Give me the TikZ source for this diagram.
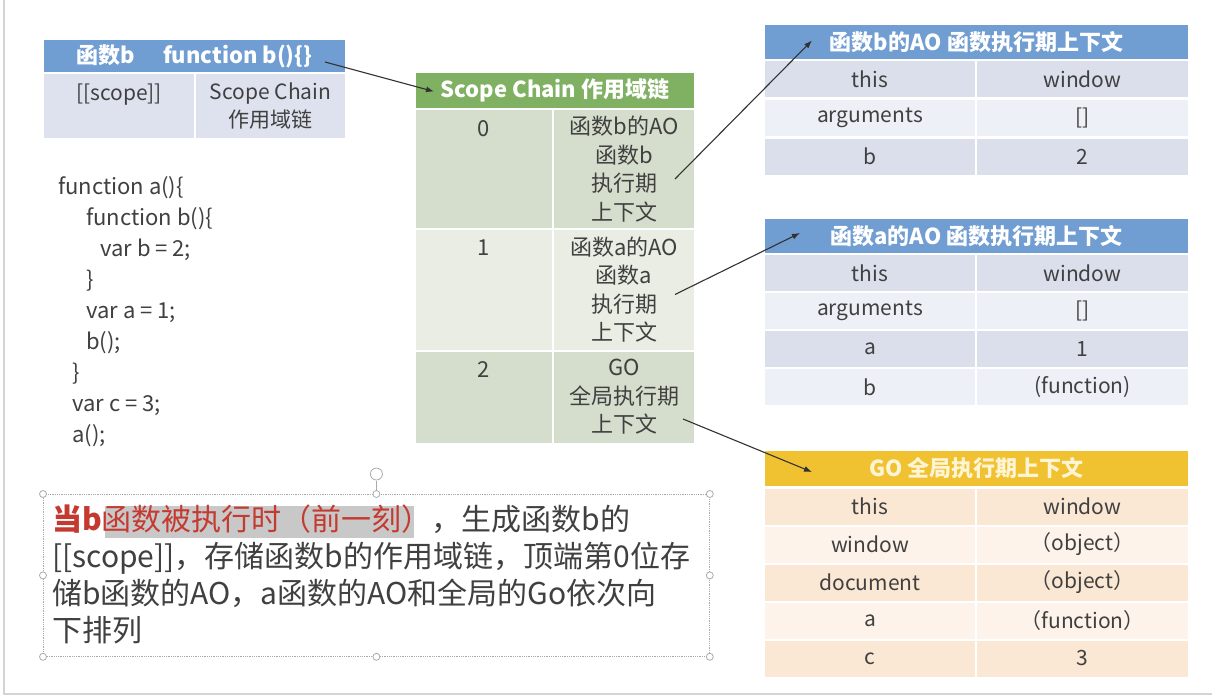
\documentclass[tikz,border=0pt]{standalone}
\usepackage{fontspec}
\setmainfont{Noto Sans CJK SC}
\usetikzlibrary{positioning, arrows.meta}

\definecolor{hdrblue}{RGB}{112,157,210}
\definecolor{hdrgreen}{RGB}{128,177,98}
\definecolor{hdryellow}{RGB}{240,194,50}
\definecolor{bluebody}{RGB}{221,226,238}
\definecolor{bluedark}{RGB}{218,223,235}
\definecolor{bluelight}{RGB}{237,240,246}
\definecolor{greendark}{RGB}{213,222,204}
\definecolor{greenlight}{RGB}{233,237,228}
\definecolor{yellowdark}{RGB}{250,231,212}
\definecolor{yellowlight}{RGB}{253,243,234}
\definecolor{creamtxt}{RGB}{255,244,212}
\definecolor{txtgray}{RGB}{64,64,64}
\definecolor{redtxt}{RGB}{196,58,48}
\definecolor{hilite}{RGB}{200,200,200}
\definecolor{arrowgray}{RGB}{50,50,50}
\definecolor{framegray}{RGB}{170,170,170}

\begin{document}
\begin{tikzpicture}[
        x=1pt, y=-1pt,
        hdr/.style={
            rectangle,
            inner sep=0pt, outer sep=0pt,
            minimum height=34pt,
            text=white,
            font=\fontsize{22}{26}\selectfont\bfseries
        },
        cell/.style={
            rectangle,
            inner sep=0pt, outer sep=0pt,
            minimum height=36pt,
            text=txtgray,
            font=\fontsize{21}{25}\selectfont
        },
        lcell/.style={cell, minimum width=210pt},
        rcell/.style={cell, minimum width=211pt},
        chain/.style={
            rectangle,
            inner sep=0pt, outer sep=0pt,
            text=txtgray,
            align=center,
            font=\fontsize{22}{28.5}\selectfont
        },
        toplbl/.style={anchor=north, inner sep=0pt, yshift=-10pt, text=txtgray, font=\fontsize{22}{28.5}\selectfont},
        line/.style={draw=arrowgray, -{Latex[length=8pt, width=6pt]}, line width=1.1pt},
        handle/.style={draw=framegray, fill=white, line width=0.8pt}
    ]
        \useasboundingbox (0,0) rectangle (1212,698);
        \fill[white] (0,0) rectangle (1212,698);
        \draw[framegray!50, line width=1.5pt] (4,0) -- (4,694) -- (1212,694);

        % function b table
        \node[hdr, fill=hdrblue, minimum width=301pt, minimum height=32pt, anchor=north west] (fbh) at (44,40) {函数b\hspace{28pt}function b()\{\}};
        \node[cell, fill=bluebody, minimum width=150pt, minimum height=64pt, align=center, font=\fontsize{21}{28}\selectfont, below=2pt of fbh.south west, anchor=north west] (fbscope) {[[scope]]\\~};
        \node[cell, fill=bluebody, minimum width=149pt, minimum height=64pt, align=center, font=\fontsize{21}{28}\selectfont, right=2pt of fbscope] (fbchain) {Scope Chain\\作用域链};

        % code
        \node[anchor=north west, align=left, inner sep=0pt, text=txtgray, font=\fontsize{22}{31}\selectfont] (code) at (58,176) {function a()\{\\
            \hspace*{28pt}function b()\{\\
            \hspace*{42pt}var b = 2;\\
            \hspace*{28pt}\}\\
            \hspace*{28pt}var a = 1;\\
            \hspace*{28pt}b();\\
            \hspace*{14pt}\}\\
            \hspace*{14pt}var c = 3;\\
            \hspace*{14pt}a();};

        % scope chain
        \node[hdr, fill=hdrgreen, minimum width=278pt, minimum height=35pt, anchor=north west] (sch) at (416,73) {Scope Chain 作用域链};
        \node[chain, fill=greendark, minimum width=136pt, minimum height=117pt, below=2.5pt of sch.south west, anchor=north west, label={[toplbl]north:0}] (sc0l) {};
        \node[chain, fill=greendark, minimum width=140pt, minimum height=117pt, right=2pt of sc0l] (sc0r) {函数b的AO\\函数b\\执行期\\上下文};
        \node[chain, fill=greenlight, minimum width=136pt, minimum height=120pt, below=2pt of sc0l.south west, anchor=north west, label={[toplbl]north:1}] (sc1l) {};
        \node[chain, fill=greenlight, minimum width=140pt, minimum height=120pt, right=2pt of sc1l] (sc1r) {函数a的AO\\函数a\\执行期\\上下文};
        \node[chain, fill=greendark, minimum width=136pt, minimum height=91pt, below=2pt of sc1l.south west, anchor=north west, label={[toplbl]north:2}] (sc2l) {};
        \node[chain, fill=greendark, minimum width=140pt, minimum height=91pt, right=2pt of sc2l] (sc2r) {GO\\全局执行期\\上下文};

        % AO of b
        \node[hdr, fill=hdrblue, minimum width=423pt, anchor=north west] (aobh) at (765,25) {函数b的AO 函数执行期上下文};
        \node[lcell, fill=bluedark, below=2.5pt of aobh.south west, anchor=north west] (aob1l) {this};
        \node[rcell, fill=bluedark, right=2pt of aob1l] (aob1r) {window};
        \node[lcell, fill=bluelight, below=2.5pt of aob1l.south west, anchor=north west] (aob2l) {arguments};
        \node[rcell, fill=bluelight, right=2pt of aob2l] (aob2r) {[]};
        \node[lcell, fill=bluedark, below=2.5pt of aob2l.south west, anchor=north west] (aob3l) {b};
        \node[rcell, fill=bluedark, right=2pt of aob3l] (aob3r) {2};

        % AO of a
        \node[hdr, fill=hdrblue, minimum width=423pt, anchor=north west] (aoah) at (765,219) {函数a的AO 函数执行期上下文};
        \node[lcell, fill=bluedark, below=2pt of aoah.south west, anchor=north west] (aoa1l) {this};
        \node[rcell, fill=bluedark, right=2pt of aoa1l] (aoa1r) {window};
        \node[lcell, fill=bluelight, below=2pt of aoa1l.south west, anchor=north west] (aoa2l) {arguments};
        \node[rcell, fill=bluelight, right=2pt of aoa2l] (aoa2r) {[]};
        \node[lcell, fill=bluedark, below=2pt of aoa2l.south west, anchor=north west] (aoa3l) {a};
        \node[rcell, fill=bluedark, right=2pt of aoa3l] (aoa3r) {1};
        \node[lcell, fill=bluelight, below=2pt of aoa3l.south west, anchor=north west] (aoa4l) {b};
        \node[rcell, fill=bluelight, right=2pt of aoa4l] (aoa4r) {(function)};

        % GO
        \node[hdr, fill=hdryellow, text=creamtxt, minimum width=423pt, minimum height=35pt, anchor=north west] (goh) at (765,451) {GO 全局执行期上下文};
        \node[lcell, fill=yellowdark, below=2.5pt of goh.south west, anchor=north west] (go1l) {this};
        \node[rcell, fill=yellowdark, right=2pt of go1l] (go1r) {window};
        \node[lcell, fill=yellowlight, below=2pt of go1l.south west, anchor=north west] (go2l) {window};
        \node[rcell, fill=yellowlight, right=2pt of go2l] (go2r) {（object）};
        \node[lcell, fill=yellowdark, below=2pt of go2l.south west, anchor=north west] (go3l) {document};
        \node[rcell, fill=yellowdark, right=2pt of go3l] (go3r) {（object）};
        \node[lcell, fill=yellowlight, below=2pt of go3l.south west, anchor=north west] (go4l) {a};
        \node[rcell, fill=yellowlight, right=2pt of go4l] (go4r) {（function）};
        \node[lcell, fill=yellowdark, below=2pt of go4l.south west, anchor=north west] (go5l) {c};
        \node[rcell, fill=yellowdark, right=2pt of go5l] (go5r) {3};

        % Paths
        \path [line] ([xshift=-20pt, yshift=-6pt]fbh.east) -- ([xshift=18pt, yshift=-1pt]sch.west);
        \path [line] ([xshift=-19pt, yshift=-10pt]sc0r.east) -- ([xshift=47pt, yshift=1.5pt]aobh.west);
        \path [line] ([xshift=-19pt, yshift=-5pt]sc1r.east) -- ([xshift=35pt, yshift=3pt]aoah.west);
        \path [line] ([xshift=-11pt, yshift=-22pt]sc2r.east) -- ([xshift=47pt, yshift=-3.5pt]goh.west);

        % note box
        \node[draw=framegray, densely dotted, line width=0.8pt, inner sep=0pt, minimum width=666pt, minimum height=162pt, anchor=north west] (note) at (43,494) {};
        \draw[handle] (note.north) -- ++(0,-13) ++(0,-7) circle (6pt);
        \foreach \a in {north west, north, north east, east, south east, south, south west, west}
            \draw[handle] (note.\a) circle (3.5pt);
        \fill[hilite] (105,506) rectangle (414,538);
        \node[anchor=north west, align=left, inner sep=0pt, text=txtgray, font=\fontsize{30}{37}\selectfont] (notetext) at (52,505) {{\color{redtxt}\bfseries 当b}{\color{redtxt}函数被执行时（前一刻）}，生成函数b的\\
            {}[[scope]]，存储函数b的作用域链，顶端第0位存\\
            储b函数的AO，a函数的AO和全局的Go依次向\\
            下排列};
    \end{tikzpicture}
\end{document}
